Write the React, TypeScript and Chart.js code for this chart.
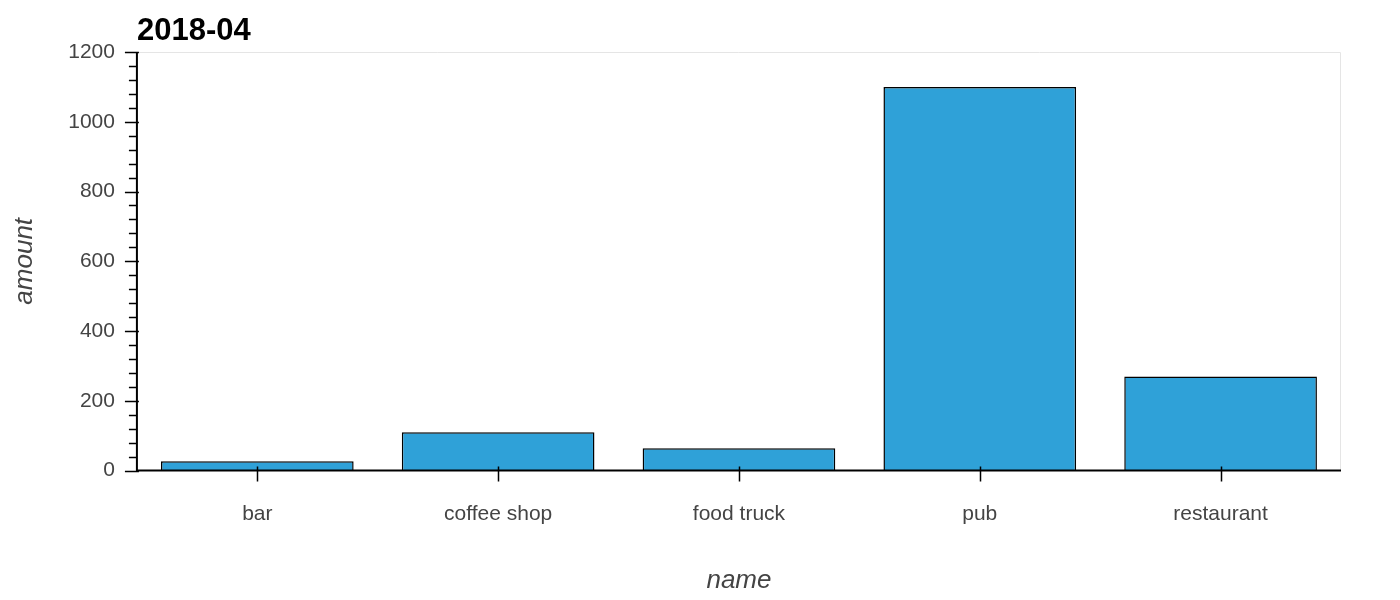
import React, { useEffect, useRef } from "react";
import { Chart, registerables } from "chart.js";
Chart.register(...registerables);

const categories = ["bar", "coffee shop", "food truck", "pub", "restaurant"];
const amounts = [27, 110, 64, 1100, 270];
const yMajorTicks = [0, 200, 400, 600, 800, 1000, 1200];
const yMinorStep = 40;
const titleText = "2018-04";

const FONT = "'Liberation Sans', Arial, Helvetica, sans-serif";

const decor = {
  id: "decor",
  afterDraw(chart: any) {
    const { ctx, chartArea: a, scales } = chart;
    const y = scales.y, x = scales.x;
    ctx.save();
    ctx.strokeStyle = "#e5e5e5";
    ctx.lineWidth = 1;
    ctx.beginPath();
    ctx.moveTo(a.left, a.top + 0.5);
    ctx.lineTo(a.right - 0.5, a.top + 0.5);
    ctx.lineTo(a.right - 0.5, a.bottom);
    ctx.stroke();
    ctx.strokeStyle = "#000";
    ctx.lineWidth = 2;
    ctx.beginPath();
    ctx.moveTo(a.left, a.top);
    ctx.lineTo(a.left, a.bottom);
    ctx.lineTo(a.right, a.bottom);
    ctx.stroke();
    ctx.lineWidth = 1.5;
    ctx.beginPath();
    for (let v = 0; v <= 1200; v += yMinorStep) {
      const p = Math.round(y.getPixelForValue(v)) + 0.5;
      const major = yMajorTicks.includes(v);
      ctx.moveTo(a.left - (major ? 12 : 8), p);
      ctx.lineTo(a.left + (major ? 2 : 0), p);
    }
    categories.forEach((_, i) => {
      const p = Math.round(x.getPixelForValue(i)) + 0.5;
      ctx.moveTo(p, a.bottom - 4);
      ctx.lineTo(p, a.bottom + 11);
    });
    ctx.stroke();
    ctx.fillStyle = "#000";
    ctx.font = `bold 31px ${FONT}`;
    ctx.textBaseline = "alphabetic";
    ctx.textAlign = "left";
    ctx.fillText(titleText, a.left, a.top - 12);
    ctx.restore();
  },
};

export default function App() {
  const ref = useRef<HTMLCanvasElement>(null);
  useEffect(() => {
    const chart = new Chart(ref.current!, {
      type: "bar",
      data: {
        labels: categories,
        datasets: [
          {
            data: amounts,
            backgroundColor: "#2FA1D8",
            borderColor: "#000",
            borderWidth: 1.5,
            categoryPercentage: 1,
            barPercentage: 0.8,
          },
        ],
      },
      options: {
        animation: false,
        responsive: false,
        layout: { padding: { top: 44, right: 51, left: 1, bottom: -4 } },
        plugins: { legend: { display: false }, tooltip: { enabled: false } },
        scales: {
          x: {
            grid: { display: false },
            border: { display: false },
            ticks: { color: "#444", font: { family: FONT, size: 21 }, padding: 23 },
            title: {
              display: true,
              text: "name",
              color: "#444",
              font: { family: FONT, size: 26, style: "italic" },
              padding: { top: 15, bottom: 0 },
            },
          },
          y: {
            min: 0,
            max: 1200,
            afterBuildTicks: (s: any) => {
              s.ticks = yMajorTicks.map((v) => ({ value: v }));
            },
            grid: { display: false },
            border: { display: false },
            ticks: {
              color: "#444",
              font: { family: FONT, size: 21 },
              padding: 14,
              callback: (v: any) => String(v),
            },
            title: {
              display: true,
              text: "amount",
              color: "#444",
              font: { family: FONT, size: 26, style: "italic" },
              padding: { top: 0, bottom: 14 },
            },
          },
        },
      },
      plugins: [decor],
    });
    return () => chart.destroy();
  }, []);
  return <canvas ref={ref} width={1384} height={584} style={{ display: "block" }} />;
}
